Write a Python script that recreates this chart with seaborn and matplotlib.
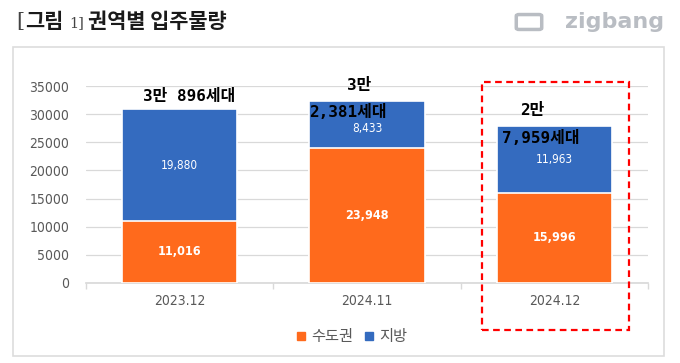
import matplotlib
matplotlib.use("Agg")
import matplotlib.pyplot as plt
import matplotlib.patches as mpatches
import pandas as pd
import seaborn as sns

# data
periods = ['2023.12', '2024.11', '2024.12']
capital = [11016, 23948, 15996]   # 수도권
region = [19880, 8433, 11963]     # 지방
orange = '#FF6A1C'
blue = '#346BBF'
kr = ['Noto Sans CJK KR', 'DejaVu Sans']
mono = ['DejaVu Sans Mono', 'Noto Sans CJK KR']

df = pd.DataFrame({'period': periods, 'capital': capital, 'region': region})
df['total'] = df['capital'] + df['region']

sns.set_theme(style='white')
plt.rcParams['font.family'] = kr

fig = plt.figure(figsize=(6.8, 3.63), dpi=100)
ax = fig.add_axes([86/680, 1-283/363, 562/680, 197/363])

sns.barplot(data=df, x='period', y='total', color=blue, width=0.615,
            edgecolor='white', linewidth=1.2, saturation=1, ax=ax, zorder=2)
sns.barplot(data=df, x='period', y='capital', color=orange, width=0.615,
            edgecolor='white', linewidth=1.2, saturation=1, ax=ax, zorder=3)

for i, r in df.iterrows():
    ax.text(i, r['capital']/2, f"{r['capital']:,}", ha='center', va='center', color='white',
            fontsize=9, fontweight='bold', family='DejaVu Sans', fontstretch='condensed', zorder=4)
    ax.text(i, r['capital'] + r['region']/2 - (700 if i == 1 else 0), f"{r['region']:,}",
            ha='center', va='center', color='white', fontsize=8.5,
            family='DejaVu Sans', fontstretch='condensed', zorder=4)

# total annotations
def man(t):
    return f"{t // 10000}만", f"{t % 10000:,}세대"

akw = dict(ha='center', va='center', fontsize=11.5, fontweight='bold', color='black',
           family=mono, clip_on=False, zorder=5)
a, b = man(df['total'][0])
ax.text(0.05, 33200, f"{a} {b}", **akw)
a, b = man(df['total'][1])
ax.text(0.96, 35100, a, **akw)
ax.text(0.90, 30300, b, **akw)
a, b = man(df['total'][2])
ax.text(1.88, 30560, a, **akw)
ax.text(1.93, 25800, b, **akw)

ax.set_xlim(-0.5, 2.5)
ax.set_ylim(0, 35000)
ax.set_yticks(range(0, 35001, 5000))
ax.yaxis.grid(True, color='#D9D9D9', lw=0.9, zorder=0)
ax.set_axisbelow(True)
ax.set_xlabel('')
ax.set_ylabel('')
for s in ['left', 'right', 'top']:
    ax.spines[s].set_visible(False)
ax.spines['bottom'].set_color('#D9D9D9')
ax.tick_params(axis='y', length=0, pad=12, labelsize=10, labelcolor='#595959')
ax.tick_params(axis='x', length=0, pad=8, labelsize=10, labelcolor='#595959')
ax.set_xticks([-0.5, 0.5, 1.5, 2.5], minor=True)
ax.tick_params(axis='x', which='minor', length=4, color='#D9D9D9', bottom=True)
for lab in ax.get_xticklabels() + ax.get_yticklabels():
    lab.set_family('DejaVu Sans')
    lab.set_fontstretch('condensed')

# legend
handles = [mpatches.Patch(color=orange, label='수도권'), mpatches.Patch(color=blue, label='지방')]
fig.legend(handles=handles, loc='center', bbox_to_anchor=(352/680, 1-337/363), ncol=2,
           frameon=False, fontsize=11, handlelength=0.5, handleheight=0.5,
           handletextpad=0.4, columnspacing=0.8, labelcolor='#595959')

# outer frame
fig.patches.append(mpatches.Rectangle((13/680, 1-356/363), 651/680, 309/363, transform=fig.transFigure,
                                      fill=False, ec='#DDDDDD', lw=1.2))
# highlight box
fig.patches.append(mpatches.Rectangle((482/680, 1-330/363), 147/680, 248/363, transform=fig.transFigure,
                                      fill=False, ec='#FF0000', lw=1.6, ls=(0, (3, 2)), zorder=10))

# title
fig.text(16/680, 1-22/363, '[', fontsize=15, family='DejaVu Serif', color='#444444', va='center')
fig.text(25/680, 1-22/363, '그림', fontsize=15, fontweight='bold', color='#1a1a1a', va='center')
fig.text(69/680, 1-23/363, '1]', fontsize=10.5, family='DejaVu Serif', color='#444444', va='center')
fig.text(88/680, 1-22/363, '권역별 입주물량', fontsize=15, fontweight='bold', color='#1a1a1a', va='center')

# logo
fig.text(664/680, 1-22/363, 'zigbang', fontsize=16, fontweight='bold', color='#B9BDC3',
         ha='right', va='center', family=['DejaVu Sans'])
fig.patches.append(mpatches.FancyBboxPatch((519/680, 1-28/363), 20/680, 12/363,
                                           boxstyle='round,pad=0.004', transform=fig.transFigure,
                                           fill=False, ec='#B9BDC3', lw=2.5))

fig.savefig('out.png', dpi=100)
